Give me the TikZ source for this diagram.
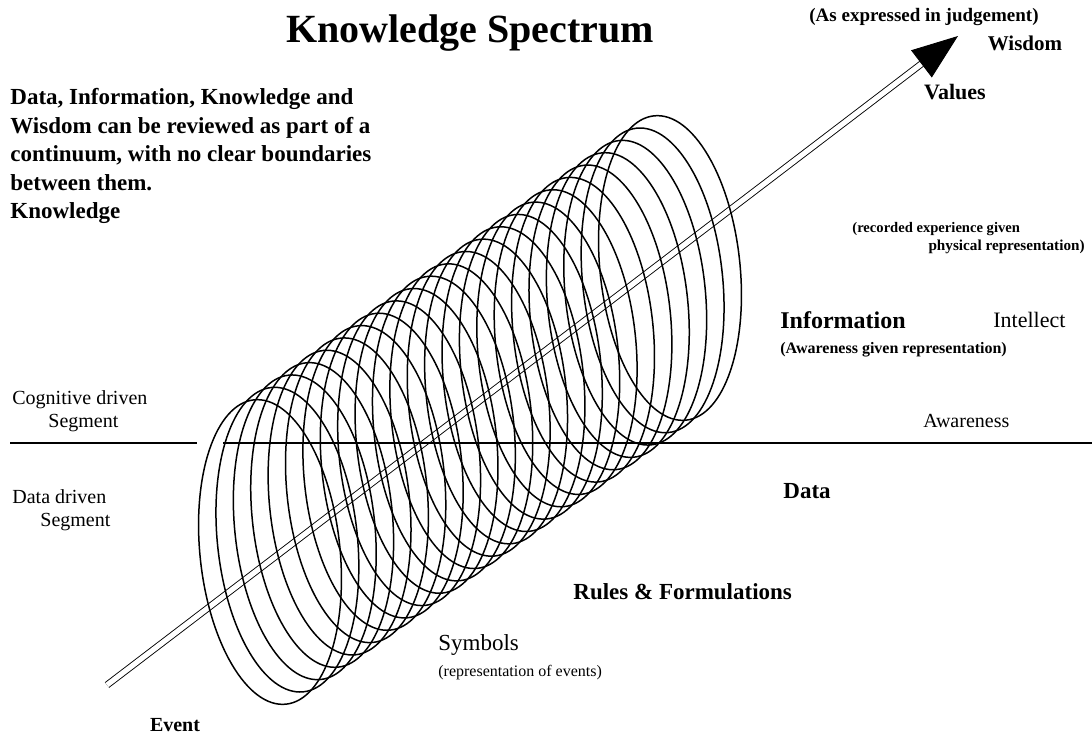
\documentclass[tikz,border=0pt]{standalone}
\usepackage{fontspec}
\setmainfont{Liberation Serif}
\usepackage{tikz}
\usetikzlibrary{calc,arrows.meta}

\tikzset{
  ring/.style={line width=0.75pt},
  rule/.style={line width=0.8pt},
  axisline/.style={double, double distance=2.6pt, line width=0.45pt,
    -{Triangle[length=23pt,width=17pt]}},
  lbl/.style={inner sep=0pt, font=\fontsize{#1}{#1}\selectfont},
  blbl/.style={inner sep=0pt, font=\fontsize{#1}{#1}\selectfont\bfseries},
}

\begin{document}
\begin{tikzpicture}[x=0.5pt,y=-0.5pt]
		\useasboundingbox (0,0) rectangle (1092,734);
		
		% Axis ends and cylinder axis
		\coordinate (evt) at (107,685);
		\coordinate (wis) at (958,36);
		\coordinate (cylA) at (270,552);
		\coordinate (cylB) at (670,268);
		
		% Axis (double line)
		\draw[axisline] (evt) -- (wis);
		
		% Rings along the spectrum
		\foreach \i in {0,...,23} {
			\coordinate (ring\i) at ($(cylA)!\i/23!(cylB)$);
			\draw[ring, rotate around={6:(ring\i)}] (ring\i) ellipse [x radius=35pt, y radius=76.5pt];
		}
		
		% Segment boundary
		\coordinate (ruleA) at (10,443);
		\coordinate (ruleB) at (197,443);
		\coordinate (ruleC) at (223,443);
		\coordinate (ruleD) at (1092,443);
		\draw[rule] (ruleA) -- (ruleB);
		\draw[rule] (ruleC) -- (ruleD);
		
		% Title
		\node[blbl=20] (title) at (470,33) {Knowledge Spectrum};
		
		% Intro text
		\node[anchor=north west, align=left, inner sep=0pt,
			font=\fontsize{11.5}{14.25}\selectfont\bfseries] (intro) at (10,88)
			{Data, Information, Knowledge and\\
			Wisdom can be reviewed as part of a\\
			continuum, with no clear boundaries\\
			between them.\\
			Knowledge};
		
		% Top of the spectrum
		\node[blbl=9.5] (judge) at (924,17) {(As expressed in judgement)};
		\node[blbl=10.5] (wisdom) at (1025,43) {Wisdom};
		\node[blbl=11] (values) at (955,92) {Values};
		\node[blbl=7.3, anchor=west] (rec1) at (852,229) {(recorded experience given};
		\node[blbl=7.6, anchor=east] (rec2) at (1085,247) {physical representation)};
		
		% Information level
		\node[blbl=12, anchor=west] (info) at (780,320) {Information};
		\node[lbl=11, anchor=west] (intellect) at (993,320) {Intellect};
		\node[blbl=8, anchor=west] (infonote) at (780,350) {(Awareness given representation)};
		\node[lbl=10, anchor=west] (aware) at (923,421) {Awareness};
		
		% Segments
		\node[lbl=10, anchor=west] (cog) at (12,400) {Cognitive driven};
		\node[lbl=10, anchor=west] (cogseg) at (48,423) {Segment};
		\node[lbl=10, anchor=west] (ddr) at (12,497) {Data driven};
		\node[lbl=10, anchor=west] (ddrseg) at (40,522) {Segment};
		
		% Lower levels
		\node[blbl=11.5, anchor=west] (data) at (783,491) {Data};
		\node[blbl=11.5, anchor=west] (rules) at (573,592) {Rules \& Formulations};
		\node[lbl=11.5, anchor=west] (symb) at (438,645) {Symbols};
		\node[lbl=8, anchor=west] (symbnote) at (438,673) {(representation of events)};
		\node[blbl=10] (event) at (175,725) {Event};
	\end{tikzpicture}
\end{document}
